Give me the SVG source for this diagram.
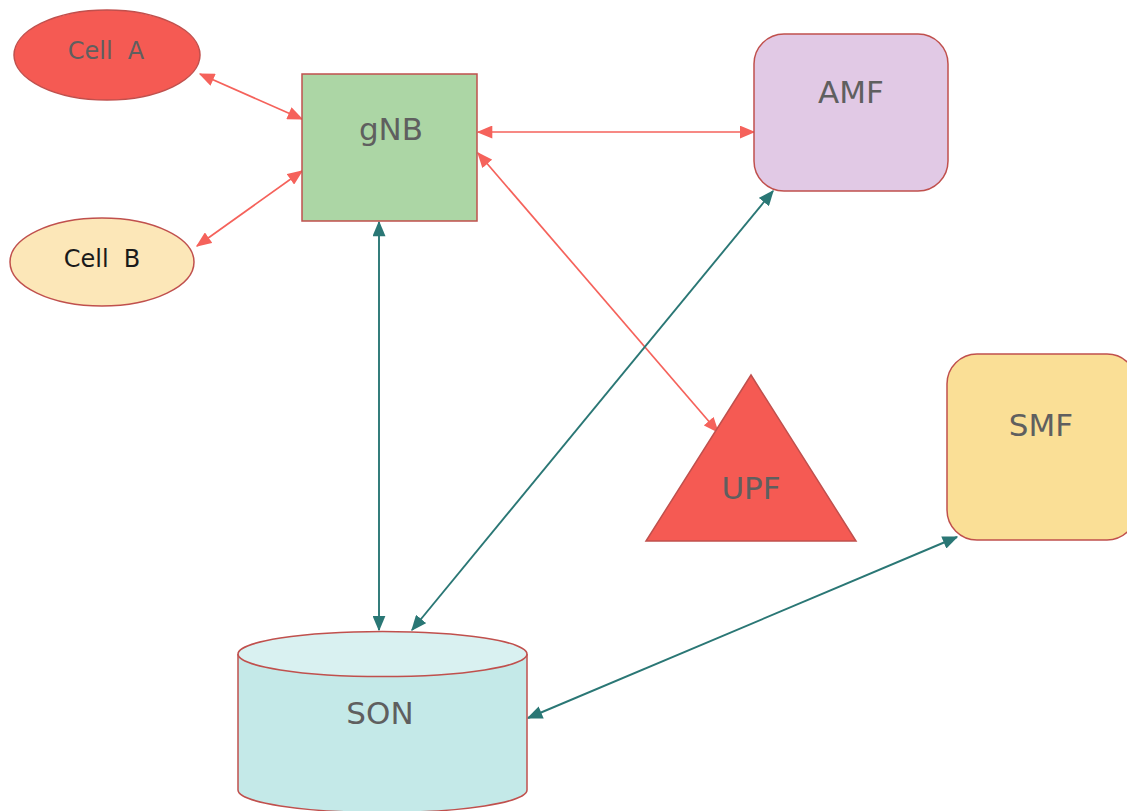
<svg xmlns="http://www.w3.org/2000/svg" width="1127" height="811" viewBox="0 0 1127 811">
<style>
  .node { stroke: #c0504d; stroke-width: 1.5; }
  .lbl { font-family: "DejaVu Sans", Verdana, sans-serif; fill: #5f5f5f; text-anchor: middle; }
  .big { font-size: 31px; }
  .small { font-size: 24px; }
  .red { stroke: #f5625b; stroke-width: 1.7; fill: none; marker-start: url(#ra); marker-end: url(#ra); }
  .teal { stroke: #2a7775; stroke-width: 1.9; fill: none; marker-start: url(#ta); marker-end: url(#ta); }
</style>
<defs>
  <marker id="ra" viewBox="0 0 12 10" refX="11" refY="5" markerWidth="16" markerHeight="13" markerUnits="userSpaceOnUse" orient="auto-start-reverse">
    <path d="M0,0 L12,5 L0,10 z" fill="#f5625b"/>
  </marker>
  <marker id="ta" viewBox="0 0 12 10" refX="11" refY="5" markerWidth="16" markerHeight="13" markerUnits="userSpaceOnUse" orient="auto-start-reverse">
    <path d="M0,0 L12,5 L0,10 z" fill="#2a7775"/>
  </marker>
</defs>
<rect width="1127" height="811" fill="#ffffff"/>
<g id="connectors">
  <line class="red" x1="200" y1="74" x2="302" y2="119"/>
  <line class="red" x1="197" y1="246" x2="302" y2="171"/>
  <line class="red" x1="478" y1="132" x2="754" y2="132"/>
  <line class="red" x1="478" y1="153" x2="718" y2="432"/>
  <line class="teal" x1="379" y1="222" x2="379" y2="630"/>
  <line class="teal" x1="773" y1="191" x2="412" y2="630"/>
  <line class="teal" x1="957" y1="537" x2="528" y2="718"/>
</g>
<g id="cellA">
  <ellipse class="node" cx="107" cy="55" rx="93" ry="45" fill="#f55a53"/>
  <text class="lbl small" x="106" y="59" xml:space="preserve">Cell  A</text>
</g>
<g id="cellB">
  <ellipse class="node" cx="102" cy="262" rx="92" ry="44" fill="#fce7b8"/>
  <text class="lbl small" x="102" y="267" style="fill:#1a1a1a" xml:space="preserve">Cell  B</text>
</g>
<g id="gNB">
  <rect class="node" x="302" y="74" width="175" height="147" fill="#acd6a5"/>
  <text class="lbl big" x="391" y="140">gNB</text>
</g>
<g id="AMF">
  <rect class="node" x="754" y="34" width="194" height="157" rx="30" fill="#e1c9e5"/>
  <text class="lbl big" x="851" y="103">AMF</text>
</g>
<g id="SMF">
  <rect class="node" x="947" y="354" width="190" height="186" rx="30" fill="#fadf96"/>
  <text class="lbl big" x="1041" y="436">SMF</text>
</g>
<g id="UPF">
  <polygon class="node" points="751,375 856,541 646,541" fill="#f55a53"/>
  <text class="lbl big" x="751" y="499">UPF</text>
</g>
<g id="SON">
  <path class="node" d="M238,654 L238,790 A144.5,22.5 0 0 0 527,790 L527,654" fill="#c4e9e8"/>
  <ellipse class="node" cx="382.5" cy="654" rx="144.5" ry="22.5" fill="#d9f1f1"/>
  <text class="lbl big" x="380" y="724">SON</text>
</g>
</svg>
